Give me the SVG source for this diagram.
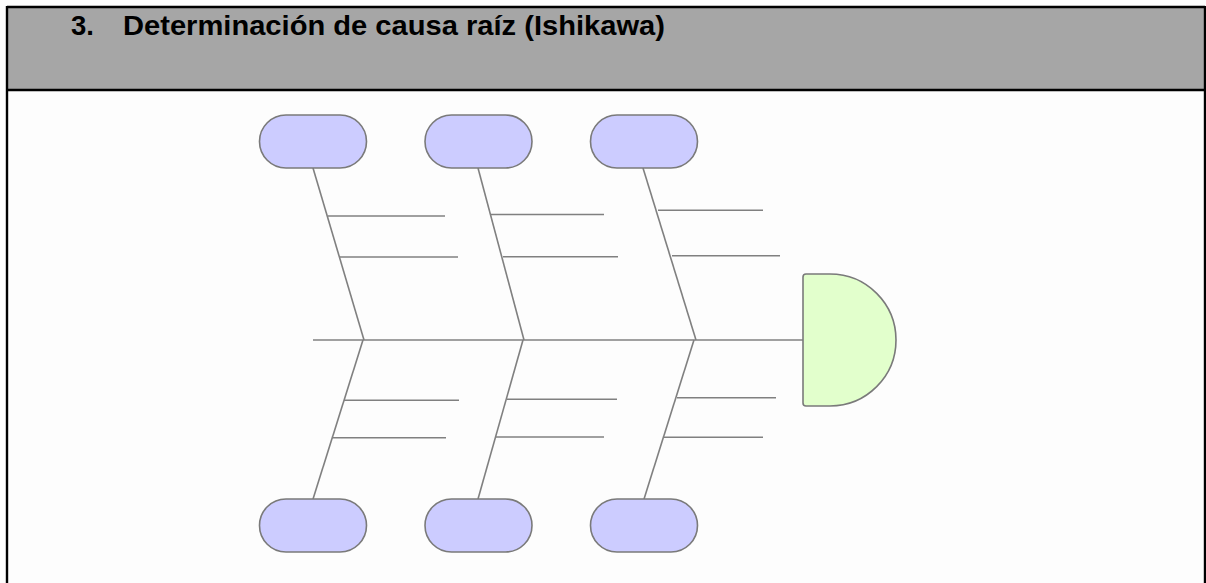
<svg xmlns="http://www.w3.org/2000/svg" width="1206" height="583" viewBox="0 0 1206 583">
<style>
.pill{fill:#ccccff;stroke:#7a7a7a;stroke-width:1.6}
.head{fill:#e2ffcc;stroke:#7a7a7a;stroke-width:1.6}
.bone{stroke:#808080;stroke-width:1.6;fill:none}
.frame{stroke:#000;stroke-width:2.4;fill:none}
.title{font-family:"Liberation Sans",Arial,sans-serif;font-weight:bold;font-size:27.5px;fill:#000}
</style>
<rect x="0" y="0" width="1206" height="583" fill="#fdfdfd"/>
<rect x="7" y="7" width="1198" height="83" fill="#a6a6a6"/>
<g id="frame">
<line class="frame" x1="7" y1="7" x2="1205" y2="7"/>
<line class="frame" x1="7" y1="90" x2="1205" y2="90"/>
<line class="frame" x1="7" y1="6" x2="7" y2="583"/>
<line class="frame" x1="1205" y1="6" x2="1205" y2="583"/>
</g>
<text class="title" x="71" y="35">3.</text>
<text class="title" x="123" y="35" textLength="542" lengthAdjust="spacingAndGlyphs">Determinación de causa raíz (Ishikawa)</text>
<g id="connectors">
<line class="bone" x1="313" y1="340" x2="803" y2="340"/>
<line class="bone" x1="313" y1="168" x2="364" y2="340"/>
<line class="bone" x1="328" y1="216" x2="445" y2="216"/>
<line class="bone" x1="340" y1="257" x2="458" y2="257"/>
<line class="bone" x1="478" y1="168" x2="524" y2="340"/>
<line class="bone" x1="491" y1="214.5" x2="604" y2="214.5"/>
<line class="bone" x1="503" y1="256.7" x2="618" y2="256.7"/>
<line class="bone" x1="643" y1="168" x2="696" y2="340"/>
<line class="bone" x1="658" y1="210.3" x2="763" y2="210.3"/>
<line class="bone" x1="672" y1="255.7" x2="780" y2="255.7"/>
<line class="bone" x1="363" y1="340" x2="313" y2="499"/>
<line class="bone" x1="344" y1="400.3" x2="459" y2="400.3"/>
<line class="bone" x1="332" y1="437.7" x2="446" y2="437.7"/>
<line class="bone" x1="523" y1="340" x2="478" y2="499"/>
<line class="bone" x1="507" y1="399.3" x2="617" y2="399.3"/>
<line class="bone" x1="496" y1="437" x2="604" y2="437"/>
<line class="bone" x1="694" y1="340" x2="644" y2="499"/>
<line class="bone" x1="677" y1="397.7" x2="776" y2="397.7"/>
<line class="bone" x1="663" y1="437.3" x2="763" y2="437.3"/>
</g>
<g id="cause-top-1"><rect class="pill" x="259.5" y="115" width="107" height="53" rx="26.5"/></g>
<g id="cause-top-2"><rect class="pill" x="425" y="115" width="107" height="53" rx="26.5"/></g>
<g id="cause-top-3"><rect class="pill" x="590.5" y="115" width="107" height="53" rx="26.5"/></g>
<g id="cause-bottom-1"><rect class="pill" x="259.5" y="499" width="107" height="53" rx="26.5"/></g>
<g id="cause-bottom-2"><rect class="pill" x="425" y="499" width="107" height="53" rx="26.5"/></g>
<g id="cause-bottom-3"><rect class="pill" x="590.5" y="499" width="107" height="53" rx="26.5"/></g>
<g id="effect"><path class="head" d="M803,277 Q803,274 806,274 L830,274 A66,66 0 0 1 830,406 L806,406 Q803,406 803,403 Z"/></g>
</svg>
